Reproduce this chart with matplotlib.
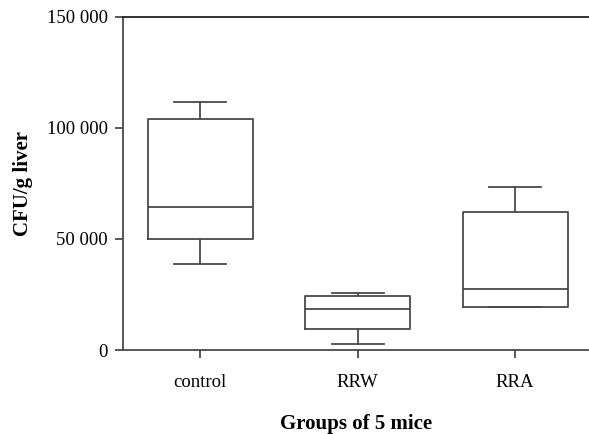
import matplotlib.pyplot as plt
import numpy as np

groups = ['control', 'RRW', 'RRA']
whisker_low = [38600, 2700, 19500]
q1 = [50000, 9600, 19500]
median = [64300, 18600, 27600]
q3 = [104200, 24300, 62200]
whisker_high = [111800, 25500, 73600]

plt.rcParams['font.family'] = ['Liberation Serif', 'DejaVu Serif']

stats = []
for i in range(len(groups)):
    stats.append({'label': groups[i], 'whislo': whisker_low[i], 'q1': q1[i],
                  'med': median[i], 'q3': q3[i], 'whishi': whisker_high[i],
                  'fliers': []})

fig = plt.figure(figsize=(5.89, 4.34), dpi=100)
ax = fig.add_axes([0.209, 0.1935, 0.791, 0.7675])
lc = '#4a4a4a'
lw = 1.3
ax.bxp(stats, positions=[1, 2, 3], widths=0.667, showfliers=False,
       boxprops=dict(color=lc, linewidth=lw),
       whiskerprops=dict(color=lc, linewidth=lw),
       capprops=dict(color=lc, linewidth=lw),
       medianprops=dict(color=lc, linewidth=lw),
       capwidths=0.33)

ax.set_xlim(0.51, 3.47)
ax.set_ylim(0, 150000)
ax.set_yticks([0, 50000, 100000, 150000])
ax.set_yticklabels(['0', '50 000', '100 000', '150 000'])
ax.tick_params(axis='both', labelsize=13.5, color=lc, width=lw, length=6, direction='out')
ax.tick_params(axis='x', pad=11)
ax.tick_params(axis='y', pad=5)
ax.spines['right'].set_visible(False)
ax.spines['left'].set_color(lc)
ax.spines['bottom'].set_color(lc)
ax.spines['top'].set_color('#222222')
for s in ['left', 'bottom', 'top']:
    ax.spines[s].set_linewidth(lw)

ax.set_ylabel('CFU/g liver', fontsize=15, fontweight='bold', labelpad=10)
ax.set_xlabel('Groups of 5 mice', fontsize=15, fontweight='bold', labelpad=17)

fig.savefig('out.png', dpi=100)
